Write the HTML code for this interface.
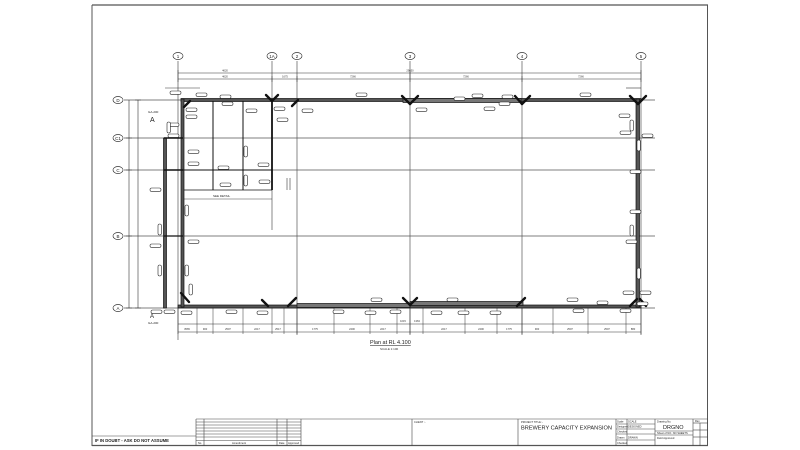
<!DOCTYPE html>
<html><head><meta charset="utf-8"><style>
html,body{margin:0;padding:0;background:#fff;}
svg{display:block;font-family:"Liberation Sans",sans-serif;}
</style></head><body>
<svg width="800" height="450" viewBox="0 0 800 450" xmlns="http://www.w3.org/2000/svg">
<g stroke="#555" fill="none" stroke-width="1">
<line x1="92" y1="5" x2="708" y2="5" stroke-width="1.2"/>
<line x1="92" y1="5" x2="92" y2="446"/>
<line x1="707.5" y1="5" x2="707.5" y2="446"/>
<line x1="92" y1="445.5" x2="708" y2="445.5" stroke-width="1.2"/>
</g>
<g stroke="#555" stroke-width="0.7">
<line x1="178" y1="61" x2="178" y2="340"/>
<line x1="272" y1="61" x2="272" y2="230"/>
<line x1="297" y1="61" x2="297" y2="335"/>
<line x1="410" y1="61" x2="410" y2="335"/>
<line x1="522" y1="61" x2="522" y2="335"/>
<line x1="641" y1="61" x2="641" y2="335"/>
<line x1="124" y1="100" x2="655" y2="100"/>
<line x1="124" y1="138" x2="655" y2="138"/>
<line x1="124" y1="170" x2="655" y2="170"/>
<line x1="124" y1="236" x2="655" y2="236"/>
<line x1="124" y1="308" x2="655" y2="308"/>
</g>
<g stroke="#333" fill="#fff" stroke-width="0.7">
<ellipse cx="178" cy="56" rx="5" ry="3.5"/><ellipse cx="272" cy="56" rx="5" ry="3.5"/><ellipse cx="297" cy="56" rx="5" ry="3.5"/><ellipse cx="410" cy="56" rx="5" ry="3.5"/><ellipse cx="522" cy="56" rx="5" ry="3.5"/><ellipse cx="641" cy="56" rx="5" ry="3.5"/>
<ellipse cx="118" cy="100" rx="5" ry="3.5"/><ellipse cx="118" cy="138" rx="5" ry="3.5"/><ellipse cx="118" cy="170" rx="5" ry="3.5"/><ellipse cx="118" cy="236" rx="5" ry="3.5"/><ellipse cx="118" cy="308" rx="5" ry="3.5"/>
</g>
<g font-size="4.5" text-anchor="middle" fill="#222">
<text x="178" y="58">1</text><text x="272" y="58">1A</text><text x="297" y="58">2</text><text x="410" y="58">3</text><text x="522" y="58">4</text><text x="641" y="58">5</text>
<text x="118" y="102">D</text><text x="118" y="140">C1</text><text x="118" y="172">C</text><text x="118" y="238">B</text><text x="118" y="310">A</text>
</g>
<g stroke="#333" stroke-width="0.6">
<line x1="178" y1="73" x2="641" y2="73"/>
<line x1="178" y1="79" x2="641" y2="79"/>
<line x1="165" y1="88" x2="200" y2="88"/>
<line x1="626" y1="88" x2="641" y2="88"/>
<line x1="129" y1="100" x2="129" y2="308"/>
<line x1="138" y1="100" x2="138" y2="308"/>
<line x1="178" y1="324" x2="641" y2="324"/>
<line x1="178" y1="332" x2="641" y2="332"/>
</g>
<g stroke="#333" stroke-width="0.5">
<line x1="178" y1="70" x2="178" y2="82"/><line x1="641" y1="70" x2="641" y2="82"/><line x1="272" y1="76" x2="272" y2="82"/><line x1="297" y1="76" x2="297" y2="82"/><line x1="410" y1="70" x2="410" y2="82"/><line x1="522" y1="76" x2="522" y2="82"/>
<line x1="126" y1="138" x2="132" y2="138"/><line x1="126" y1="170" x2="132" y2="170"/><line x1="126" y1="236" x2="132" y2="236"/><line x1="135" y1="100" x2="141" y2="100"/><line x1="135" y1="308" x2="141" y2="308"/><line x1="126" y1="308" x2="132" y2="308"/>
</g>
<g stroke="#333" stroke-width="0.5">
<line x1="178" y1="308" x2="178" y2="334"/><line x1="197" y1="308" x2="197" y2="334"/><line x1="213" y1="308" x2="213" y2="334"/><line x1="243" y1="308" x2="243" y2="334"/><line x1="272" y1="308" x2="272" y2="334"/><line x1="284" y1="308" x2="284" y2="334"/><line x1="297" y1="308" x2="297" y2="334"/><line x1="334" y1="308" x2="334" y2="334"/><line x1="370" y1="308" x2="370" y2="334"/><line x1="397" y1="308" x2="397" y2="334"/><line x1="410" y1="308" x2="410" y2="334"/><line x1="423" y1="308" x2="423" y2="334"/><line x1="465" y1="308" x2="465" y2="334"/><line x1="497" y1="308" x2="497" y2="334"/><line x1="522" y1="308" x2="522" y2="334"/><line x1="553" y1="308" x2="553" y2="334"/><line x1="588" y1="308" x2="588" y2="334"/><line x1="626" y1="308" x2="626" y2="334"/><line x1="641" y1="308" x2="641" y2="334"/>
</g>
<g font-size="2.6" fill="#333" text-anchor="middle">
<text x="225" y="71.5">4620</text><text x="285" y="77.5">1675</text><text x="353" y="77.5">7266</text><text x="410" y="71.5">29650</text><text x="466" y="77.5">7266</text><text x="581" y="77.5">7266</text><text x="225" y="77.5">4620</text>
<text x="187" y="330">3565</text><text x="205" y="330">900</text><text x="228" y="330">2507</text><text x="257" y="330">2217</text><text x="278" y="330">2517</text><text x="315" y="330">1775</text><text x="352" y="330">2400</text><text x="383" y="330">2217</text><text x="403" y="322">1015</text><text x="417" y="322">1363</text><text x="444" y="330">2217</text><text x="481" y="330">2400</text><text x="509" y="330">1775</text><text x="537" y="330">900</text><text x="570" y="330">2507</text><text x="607" y="330">2507</text><text x="633" y="330">880</text>
</g>
<g fill="#555" stroke="#111" stroke-width="0.7">
<rect x="181" y="98.5" width="460" height="3"/>
<rect x="178" y="305" width="463" height="3"/>
<rect x="636" y="99" width="3.5" height="208"/>
<rect x="181" y="99" width="3" height="208"/>
<rect x="163.5" y="138" width="3" height="170"/>
<rect x="403" y="98.5" width="118" height="4" fill="#777"/>
<rect x="297" y="303.5" width="113" height="4" fill="#777"/>
<rect x="410" y="301.5" width="113" height="4" fill="#777"/>
</g>
<g stroke="#111" stroke-width="1">
<line x1="213" y1="101" x2="213" y2="190"/>
<line x1="243" y1="101" x2="243" y2="190"/>
<line x1="272" y1="101" x2="272" y2="190" stroke-width="1.8"/>
<line x1="182" y1="170" x2="272" y2="170"/>
<line x1="184" y1="190" x2="272" y2="190" stroke-width="0.7"/>
<line x1="164" y1="138" x2="183" y2="138" stroke-width="1.5"/>
<line x1="164" y1="170" x2="183" y2="170" stroke-width="1.5"/>
<line x1="164" y1="236" x2="183" y2="236" stroke-width="1.2"/>
<line x1="287" y1="178" x2="287" y2="190" stroke-width="0.5"/>
<line x1="290" y1="178" x2="290" y2="190" stroke-width="0.5"/>
<line x1="184" y1="199" x2="272" y2="199" stroke-width="0.4"/>
</g>
<g stroke="#111" stroke-width="2.4" stroke-linecap="round">
<line x1="266" y1="95" x2="272" y2="101"/><line x1="278" y1="95" x2="272" y2="101"/><line x1="292" y1="106" x2="298" y2="100"/>
<line x1="402" y1="96" x2="410" y2="104"/><line x1="418" y1="96" x2="410" y2="104"/>
<line x1="515" y1="96" x2="522" y2="104"/><line x1="530" y1="96" x2="522" y2="104"/>
<line x1="630" y1="96" x2="638" y2="104"/><line x1="646" y1="96" x2="638" y2="104"/>
<line x1="184" y1="107" x2="190" y2="101"/>
<line x1="288" y1="306" x2="296" y2="298"/><line x1="403" y1="298" x2="410" y2="305"/><line x1="417" y1="298" x2="410" y2="305"/>
<line x1="517" y1="306" x2="525" y2="298"/><line x1="630" y1="306" x2="637" y2="299"/><line x1="640" y1="299" x2="646" y2="306"/>
<line x1="181" y1="293" x2="189" y2="302"/><line x1="262" y1="300" x2="268" y2="306"/>
</g>
<g fill="#fff" stroke="#222" stroke-width="0.6">
<rect x="170" y="91" width="11" height="3.4" rx="1.7"/><rect x="196" y="93" width="11" height="3.4" rx="1.7"/><rect x="220" y="95" width="11" height="3.4" rx="1.7"/><rect x="222" y="102" width="11" height="3.4" rx="1.7"/><rect x="186" y="108" width="11" height="3.4" rx="1.7"/><rect x="186" y="115" width="11" height="3.4" rx="1.7"/><rect x="246" y="109" width="11" height="3.4" rx="1.7"/><rect x="274" y="107" width="11" height="3.4" rx="1.7"/><rect x="277" y="118" width="11" height="3.4" rx="1.7"/><rect x="302" y="109" width="11" height="3.4" rx="1.7"/>
<rect x="168" y="123" width="11" height="3.4" rx="1.7"/><rect x="168" y="134" width="11" height="3.4" rx="1.7"/><rect x="188" y="150" width="11" height="3.4" rx="1.7"/><rect x="188" y="162" width="11" height="3.4" rx="1.7"/><rect x="218" y="166" width="11" height="3.4" rx="1.7"/><rect x="258" y="163" width="11" height="3.4" rx="1.7"/><rect x="259" y="180" width="11" height="3.4" rx="1.7"/><rect x="220" y="183" width="11" height="3.4" rx="1.7"/>
<rect x="356" y="93" width="11" height="3.4" rx="1.7"/><rect x="416" y="108" width="11" height="3.4" rx="1.7"/><rect x="454" y="97" width="11" height="3.4" rx="1.7"/><rect x="472" y="94" width="11" height="3.4" rx="1.7"/><rect x="484" y="107" width="11" height="3.4" rx="1.7"/><rect x="499" y="102" width="11" height="3.4" rx="1.7"/><rect x="502" y="95" width="11" height="3.4" rx="1.7"/><rect x="580" y="93" width="11" height="3.4" rx="1.7"/><rect x="619" y="114" width="11" height="3.4" rx="1.7"/><rect x="620" y="131" width="11" height="3.4" rx="1.7"/><rect x="642" y="134" width="11" height="3.4" rx="1.7"/><rect x="630" y="170" width="11" height="3.4" rx="1.7"/><rect x="630" y="210" width="11" height="3.4" rx="1.7"/><rect x="626" y="240" width="11" height="3.4" rx="1.7"/><rect x="623" y="291" width="11" height="3.4" rx="1.7"/><rect x="640" y="291" width="11" height="3.4" rx="1.7"/><rect x="637" y="302" width="11" height="3.4" rx="1.7"/>
<rect x="150" y="244" width="11" height="3.4" rx="1.7"/><rect x="188" y="240" width="11" height="3.4" rx="1.7"/><rect x="150" y="188" width="11" height="3.4" rx="1.7"/>
<rect x="151" y="310" width="11" height="3.4" rx="1.7"/><rect x="164" y="310" width="11" height="3.4" rx="1.7"/><rect x="181" y="311" width="11" height="3.4" rx="1.7"/><rect x="226" y="310" width="11" height="3.4" rx="1.7"/><rect x="257" y="311" width="11" height="3.4" rx="1.7"/><rect x="333" y="310" width="11" height="3.4" rx="1.7"/><rect x="365" y="311" width="11" height="3.4" rx="1.7"/><rect x="371" y="298" width="11" height="3.4" rx="1.7"/><rect x="390" y="310" width="11" height="3.4" rx="1.7"/><rect x="431" y="311" width="11" height="3.4" rx="1.7"/><rect x="447" y="298" width="11" height="3.4" rx="1.7"/><rect x="458" y="311" width="11" height="3.4" rx="1.7"/><rect x="490" y="311" width="11" height="3.4" rx="1.7"/><rect x="567" y="298" width="11" height="3.4" rx="1.7"/><rect x="573" y="309" width="11" height="3.4" rx="1.7"/><rect x="597" y="301" width="11" height="3.4" rx="1.7"/><rect x="620" y="309" width="11" height="3.4" rx="1.7"/>
</g>
<g fill="#fff" stroke="#222" stroke-width="0.6">
<rect x="158" y="224" width="3.4" height="11" rx="1.7"/><rect x="158" y="265" width="3.4" height="11" rx="1.7"/><rect x="167" y="122" width="3.4" height="11" rx="1.7"/><rect x="244" y="146" width="3.4" height="11" rx="1.7"/><rect x="244" y="175" width="3.4" height="11" rx="1.7"/><rect x="185" y="205" width="3.4" height="11" rx="1.7"/><rect x="185" y="265" width="3.4" height="11" rx="1.7"/><rect x="189" y="284" width="3.4" height="11" rx="1.7"/><rect x="637" y="140" width="3.4" height="11" rx="1.7"/><rect x="637" y="268" width="3.4" height="11" rx="1.7"/><rect x="630" y="120" width="3.4" height="11" rx="1.7"/><rect x="630" y="225" width="3.4" height="11" rx="1.7"/>
</g>
<g font-size="3" fill="#222">
<text x="148" y="113">GA-200</text><text x="150" y="122" font-size="7">A</text>
<text x="150" y="318" font-size="6">A</text><text x="148" y="324">GA-200</text>
<text x="213" y="197">SEE DETAIL</text>
</g>
<text x="370" y="344" font-size="5.5" fill="#222" text-decoration="underline">Plan at RL  4.100</text>
<text x="380" y="350" font-size="3" fill="#333">SCALE 1:100</text>
<g stroke="#444" stroke-width="0.6" fill="none">
<line x1="92" y1="436" x2="196" y2="436"/>
<line x1="196" y1="419" x2="708" y2="419"/>
<line x1="196" y1="419" x2="196" y2="446"/>
<line x1="204" y1="419" x2="204" y2="446"/>
<line x1="277" y1="419" x2="277" y2="446"/>
<line x1="287" y1="419" x2="287" y2="446"/>
<line x1="301" y1="419" x2="301" y2="446"/>
<line x1="196" y1="422" x2="301" y2="422"/><line x1="196" y1="425" x2="301" y2="425"/><line x1="196" y1="428" x2="301" y2="428"/><line x1="196" y1="431" x2="301" y2="431"/><line x1="196" y1="434" x2="301" y2="434"/><line x1="196" y1="437" x2="301" y2="437"/><line x1="196" y1="440.5" x2="301" y2="440.5"/>
<line x1="412" y1="419" x2="412" y2="446"/>
<line x1="518" y1="419" x2="518" y2="446"/>
<line x1="616" y1="419" x2="616" y2="446"/>
<line x1="627" y1="419" x2="627" y2="446"/>
<line x1="655" y1="419" x2="655" y2="446"/>
<line x1="693" y1="419" x2="693" y2="446"/>
<line x1="616" y1="424" x2="655" y2="424"/><line x1="616" y1="429" x2="655" y2="429"/><line x1="616" y1="434" x2="655" y2="434"/><line x1="616" y1="440" x2="655" y2="440"/>
<line x1="655" y1="431" x2="693" y2="431"/><line x1="655" y1="435" x2="693" y2="435"/>
<line x1="693" y1="423" x2="708" y2="423"/><line x1="700" y1="423" x2="700" y2="446"/><line x1="693" y1="430" x2="708" y2="430"/><line x1="693" y1="437" x2="708" y2="437"/>
</g>
<g fill="#222" font-size="2.6">
<text x="95" y="442" font-size="4.2" font-weight="bold">IF IN DOUBT - ASK DO NOT ASSUME</text>
<text x="198" y="444">No</text><text x="232" y="444">Amendment</text><text x="279" y="444">Date</text><text x="288" y="444">Approved</text>
<text x="414" y="423">CLIENT :-</text>
<text x="521" y="423">PROJECT TITLE :-</text>
<text x="521" y="429.5" font-size="5.6">BREWERY CAPACITY EXPANSION</text>
<text x="617" y="422.5">Scale</text><text x="628" y="422.5">SCALE</text>
<text x="617" y="427.5">Designed</text><text x="628" y="427.5">DESIGNED</text>
<text x="617" y="432.5">Checked</text>
<text x="617" y="438.5">Drawn</text><text x="628" y="438.5">DRAWN</text>
<text x="617" y="444">Checked</text>
<text x="657" y="422.5">Drawing No.</text>
<text x="663" y="429" font-size="5.5">DRGNO</text>
<text x="657" y="434">Sheet of  NO. NO SHEETS</text>
<text x="657" y="439">Field Approved</text>
<text x="695" y="422">Rev</text>
</g>
</svg>
</body></html>
